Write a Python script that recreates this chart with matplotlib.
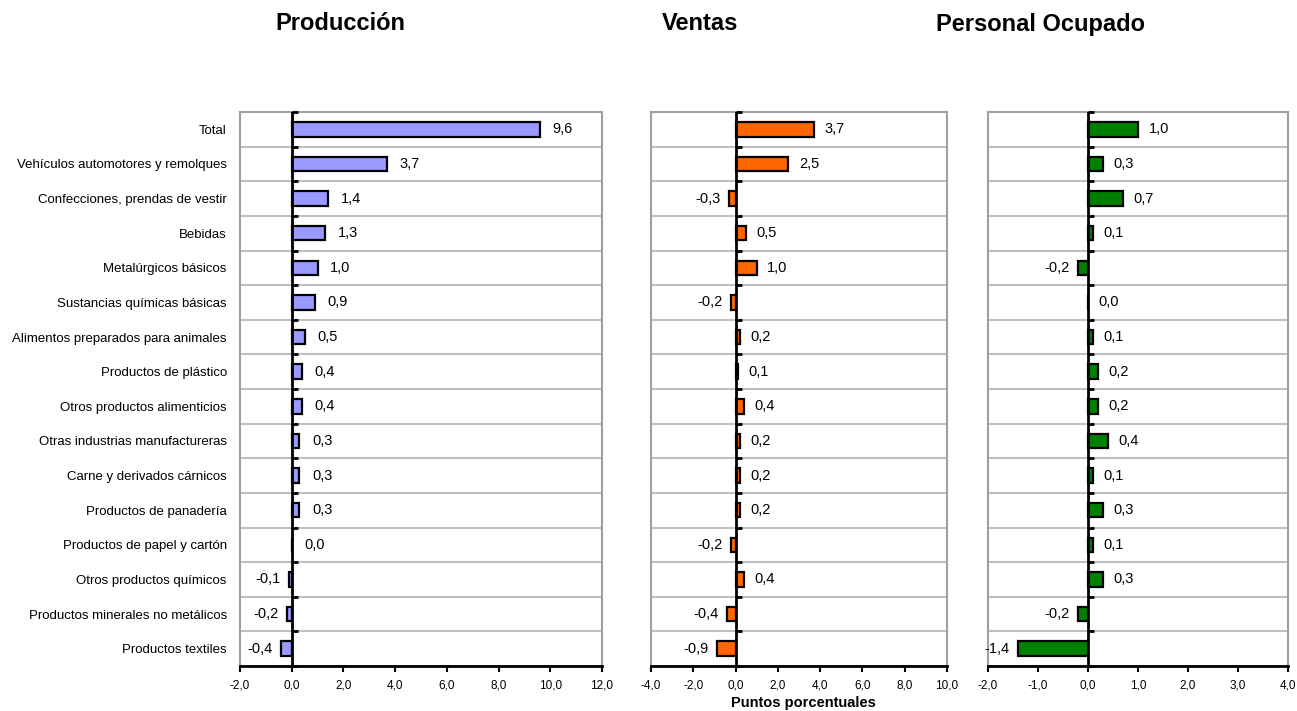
import matplotlib
matplotlib.use("Agg")
import matplotlib.pyplot as plt
import numpy as np

plt.rcParams['font.family'] = ['Liberation Sans', 'DejaVu Sans']

categories = ["Total", "Vehículos automotores y remolques", "Confecciones, prendas de vestir",
              "Bebidas", "Metalúrgicos básicos", "Sustancias químicas básicas",
              "Alimentos preparados para animales", "Productos de plástico",
              "Otros productos alimenticios", "Otras industrias manufactureras",
              "Carne y derivados cárnicos", "Productos de panadería",
              "Productos de papel y cartón", "Otros productos químicos",
              "Productos minerales no metálicos", "Productos textiles"]
produccion = [9.6, 3.7, 1.4, 1.3, 1.0, 0.9, 0.5, 0.4, 0.4, 0.3, 0.3, 0.3, 0.0, -0.1, -0.2, -0.4]
ventas = [3.7, 2.5, -0.3, 0.5, 1.0, -0.2, 0.2, 0.1, 0.4, 0.2, 0.2, 0.2, -0.2, 0.4, -0.4, -0.9]
personal = [1.0, 0.3, 0.7, 0.1, -0.2, 0.0, 0.1, 0.2, 0.2, 0.4, 0.1, 0.3, 0.1, 0.3, -0.2, -1.4]

titles = ["Producción", "Ventas", "Personal Ocupado"]
xticks_list = [np.arange(-2, 12.01, 2), np.arange(-4, 10.01, 2), np.arange(-2, 4.01, 1)]
colors = ["#9999FF", "#FF6600", "#008000"]

W, H = 1297, 711
fig = plt.figure(figsize=(W / 100, H / 100), dpi=100)

panels = [(240, 362), (651, 296), (988, 300)]
top, bottom = 112, 666
title_x = [340, 700, 1040]
datas = [produccion, ventas, personal]
pos_off = [9, 7.5, 7.5]

n = len(categories)
y = np.arange(n)
for i, ((l, w), data, xt, col) in enumerate(zip(panels, datas, xticks_list, colors)):
    ax = fig.add_axes([l / W, (H - bottom) / H, w / W, (bottom - top) / H])
    ax.barh(y, data, height=0.42, color=col, edgecolor='black', linewidth=1.6, zorder=3)
    ax.set_xlim(xt[0], xt[-1])
    ax.set_ylim(n - 0.5, -0.5)
    ax.set_xticks(xt)
    ax.set_xticklabels([f"{v:.1f}".replace('.', ',') for v in xt], fontsize=8.5)
    ax.tick_params(axis='x', direction='out', length=4, width=1.5, pad=6)
    bounds = np.arange(-0.5, n, 1.0)
    ax.set_yticks(bounds, minor=True)
    ax.grid(True, which='minor', axis='y', color='#C0C0C0', linewidth=1.5, zorder=1)
    ax.tick_params(axis='y', which='minor', length=0)
    if i == 0:
        ax.set_yticks(y)
        ax.set_yticklabels(categories, fontsize=9.5)
        ax.tick_params(axis='y', which='major', length=0, pad=9.5)
    else:
        ax.set_yticks([])
    for s in ['left', 'right', 'top']:
        ax.spines[s].set_color('#A0A0A0')
        ax.spines[s].set_linewidth(1.5)
    ax.spines['bottom'].set_color('black')
    ax.spines['bottom'].set_linewidth(2)
    ax.axvline(0, color='black', linewidth=2, zorder=4)
    ax.plot(np.zeros(len(bounds)), bounds, linestyle='none', marker=1, markersize=4,
            markeredgewidth=2, color='black', zorder=4, clip_on=False)
    for yy, v in zip(y, data):
        lab = f"{v:.1f}".replace('.', ',')
        if v >= 0:
            ax.annotate(lab, (v, yy), xytext=(pos_off[i], 0), textcoords='offset points',
                        ha='left', va='center', fontsize=10.5, zorder=5)
        else:
            ax.annotate(lab, (v, yy), xytext=(-6, 0), textcoords='offset points',
                        ha='right', va='center', fontsize=10.5, zorder=5)
    fig.text(title_x[i] / W, 1 - 24 / H, titles[i], ha='center', va='center',
             fontsize=17, fontweight='bold')

fig.text(803 / W, 1 - 703 / H, "Puntos porcentuales", ha='center', va='center',
         fontsize=10.5, fontweight='bold')

fig.savefig("out.png", dpi=100)
